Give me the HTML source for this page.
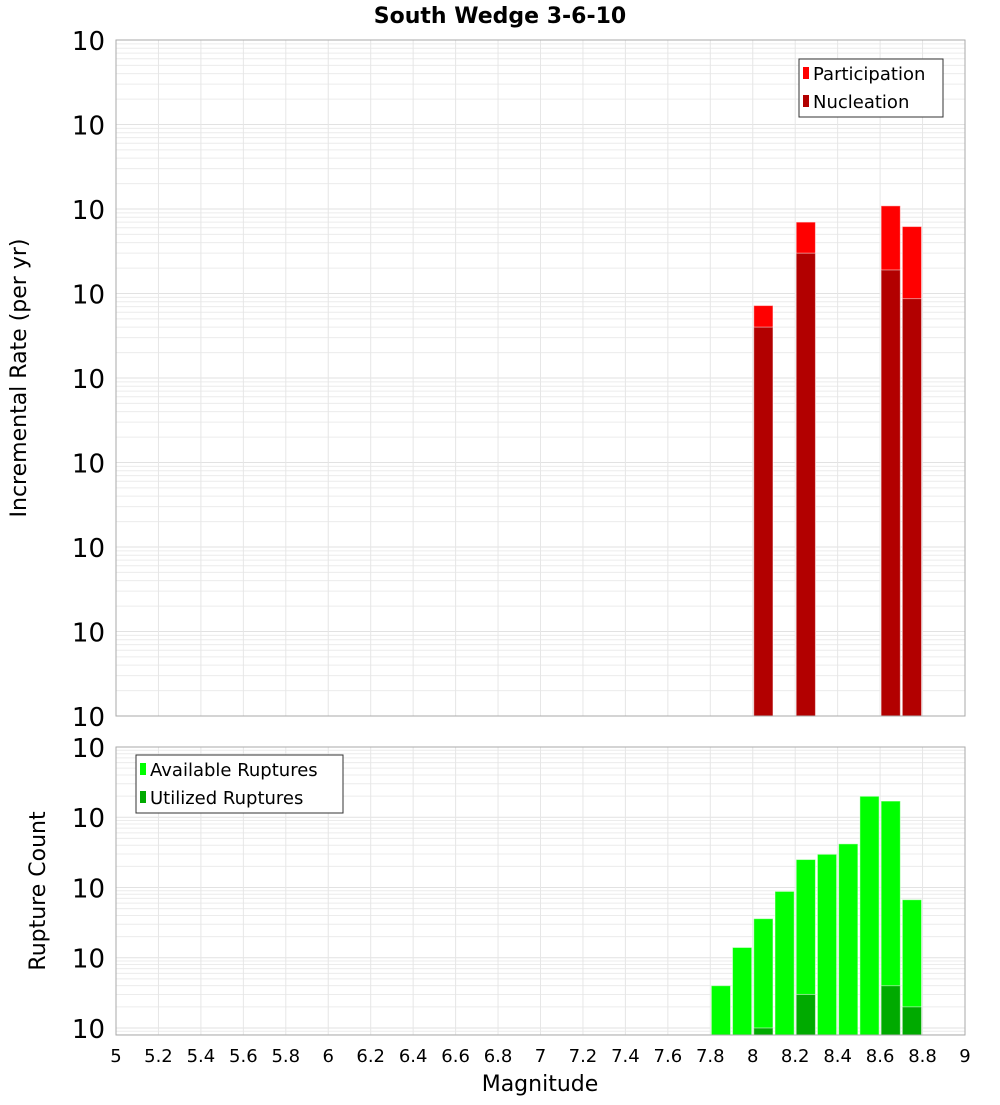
<!DOCTYPE html>
<html><head><meta charset="utf-8"><style>
body{margin:0;background:#fff;font-family:"Liberation Sans","DejaVu Sans",sans-serif}
svg text{font-family:"DejaVu Sans","Liberation Sans",sans-serif}
</style></head><body>
<svg id="c" width="1000" height="1100" xmlns="http://www.w3.org/2000/svg">
<text x="500" y="23" text-anchor="middle" font-size="22" font-weight="bold">South Wedge 3-6-10</text>
<g id="top"></g>
<g id="bot"></g>
<text transform="translate(26,378) rotate(-90)" text-anchor="middle" font-size="22">Incremental Rate (per yr)</text>
<text transform="translate(45,891) rotate(-90)" text-anchor="middle" font-size="22">Rupture Count</text>
<text x="540" y="1091" text-anchor="middle" font-size="22">Magnitude</text>
<g>
<rect x="799" y="59" width="144" height="58" fill="#fff" stroke="#333"/>
<rect x="803" y="67" width="6" height="12" fill="#ff0000"/><text x="813" y="80" font-size="18">Participation</text>
<rect x="803" y="95" width="6" height="12" fill="#b20000"/><text x="813" y="108" font-size="18">Nucleation</text>
</g>
<g>
<rect x="136" y="755" width="207" height="58" fill="#fff" stroke="#333"/>
<rect x="140" y="763" width="6" height="12" fill="#00ff00"/><text x="150" y="776" font-size="18">Available Ruptures</text>
<rect x="140" y="791" width="6" height="12" fill="#00aa00"/><text x="150" y="804" font-size="18">Utilized Ruptures</text>
</g>
</svg>
<script>
const xTicks=["5","5.2","5.4","5.6","5.8","6","6.2","6.4","6.6","6.8","7","7.2","7.4","7.6","7.8","8","8.2","8.4","8.6","8.8","9"];
const rateMags=[8.05,8.25,8.65,8.75];
const participation=[7.2e-6,7.0e-5,1.09e-4,6.2e-5];
const nucleation=[4.0e-6,3.0e-5,1.9e-5,8.7e-6];
const countMags=[7.85,7.95,8.05,8.15,8.25,8.35,8.45,8.55,8.65,8.75];
const available=[4,14,36,88,250,297,418,1990,1700,67];
const utilized=[0,0,1,0,3,0,0,0,4,2];
const NS="http://www.w3.org/2000/svg";
const L=116,R=965;
const xs=m=>L+(m-5)/4*(R-L);
function mk(p,t,a){const e=document.createElementNS(NS,t);for(const k in a)e.setAttribute(k,a[k]);p.appendChild(e);return e;}
function panel(g,top,bot,lmin,lmax,name){
  const ys=v=>bot-(Math.log10(v)-lmin)/(lmax-lmin)*(bot-top);
  for(let d=Math.floor(lmin);d<lmax;d++)for(let k=1;k<10;k++){const v=k*Math.pow(10,d);const y=ys(v);if(y<top-0.1||y>bot+0.1)continue;
    const l=mk(g,'line',{x1:L,x2:R,y1:y,y2:y,stroke:k==1?'#e2e2e2':'#ececec','stroke-width':1});
    }
  xTicks.forEach(t=>{const x=xs(+t);const l=mk(g,'line',{x1:x,x2:x,y1:top,y2:bot,stroke:'#e6e6e6'});
    });
  for(let d=Math.ceil(lmin);d<=lmax;d++){const y=ys(Math.pow(10,d));
    const t=mk(g,'text',{x:L-11,y:y+10,'text-anchor':'end','font-size':26});
    
    t.textContent='10';const s=mk(g,'tspan',{dy:-13,'font-size':16});s.textContent=String(d);
  }
  return ys;
}
function bars(g,ys,bot,mags,vals,col,name){
  mags.forEach((m,i)=>{if(!vals[i])return;const x0=xs(m-0.05)+1,x1=xs(m+0.05)-1;const y=ys(vals[i]);
    const r=mk(g,'rect',{x:x0,y:y,width:x1-x0,height:bot-y,fill:col,stroke:'rgba(255,255,255,0.5)','stroke-width':1});
    });
}
const gt=document.getElementById('top'),gb=document.getElementById('bot');
const ysT=panel(gt,40,716,-10,-2,'rate');
bars(gt,ysT,716,rateMags,participation,'#ff0000','participation-bar');
bars(gt,ysT,716,rateMags,nucleation,'#b20000','nucleation-bar');
mk(gt,'rect',{x:L,y:40,width:R-L,height:676,fill:'none',stroke:'#aaa'});
const ysB=panel(gb,747,1035,-0.1,4.0,'count');
bars(gb,ysB,1035,countMags,available,'#00ff00','available-bar');
bars(gb,ysB,1035,countMags,utilized,'#00aa00','utilized-bar');
mk(gb,'rect',{x:L,y:747,width:R-L,height:288,fill:'none',stroke:'#aaa'});
xTicks.forEach(t=>{const e=mk(gb,'text',{x:xs(+t),y:1062,'text-anchor':'middle','font-size':18});e.textContent=t;
  });
</script>
</body></html>
